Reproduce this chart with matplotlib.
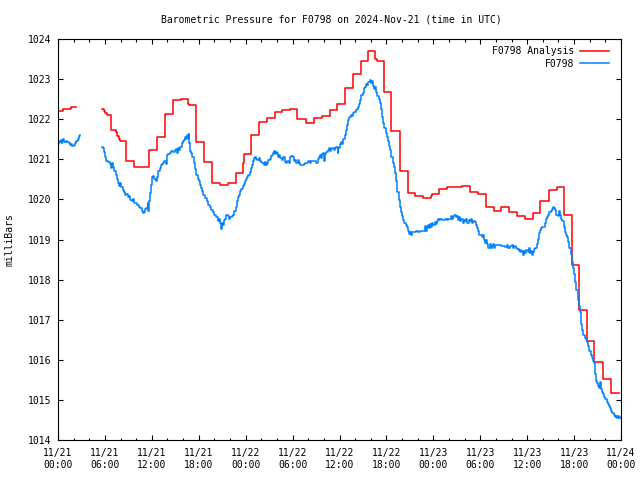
import numpy as np
import matplotlib
matplotlib.use("Agg")
import matplotlib.pyplot as plt
import matplotlib.dates as mdates

# ---------------- data ----------------
START = np.datetime64("2024-11-21T00:00")

# Analysis (step series): hour of step start, value (NaN = gap)
analysis_hours = [0.0, 0.6, 1.7, 2.26, 2.3,
    5.63, 5.85, 6.05, 6.3, 6.8, 7.45, 7.6, 7.75, 7.9, 8.7, 9.7, 11.7, 12.7, 13.7,
    14.7, 15.7, 16.6, 16.8, 17.7, 18.7, 19.7, 20.7, 21.7, 22.7, 23.7, 23.85, 24.7,
    25.7, 26.7, 27.7, 28.7, 29.7, 30.6, 31.7, 32.8, 33.7, 34.8, 35.7, 36.7, 37.7,
    38.7, 39.7, 40.6, 40.8, 41.7, 42.6, 43.7, 44.7, 45.7, 46.7, 47.7, 47.85, 48.7,
    49.7, 51.7, 52.7, 53.7, 54.7, 55.8, 56.7, 57.7, 58.7, 59.7, 60.7, 61.7, 62.8,
    63.8, 64.7, 65.7, 66.6, 67.7, 68.6, 69.7, 70.7, 71.7]
analysis_vals = [1022.20, 1022.25, 1022.30, 1022.30, np.nan,
    1022.25, 1022.20, 1022.15, 1022.10, 1021.73, 1021.68, 1021.58, 1021.50, 1021.46,
    1020.96, 1020.81, 1021.23, 1021.56, 1022.13, 1022.48, 1022.50, 1022.38, 1022.35,
    1021.43, 1020.93, 1020.41, 1020.36, 1020.41, 1020.66, 1020.90, 1021.13, 1021.61,
    1021.93, 1022.03, 1022.18, 1022.23, 1022.25, 1022.00, 1021.91, 1022.03, 1022.08,
    1022.23, 1022.38, 1022.78, 1023.13, 1023.45, 1023.70, 1023.50, 1023.45, 1022.68,
    1021.71, 1020.71, 1020.16, 1020.08, 1020.03, 1020.08, 1020.13, 1020.26, 1020.31,
    1020.33, 1020.18, 1020.13, 1019.81, 1019.71, 1019.81, 1019.69, 1019.59, 1019.51,
    1019.66, 1019.96, 1020.23, 1020.31, 1019.61, 1018.36, 1017.24, 1016.47, 1015.95,
    1015.52, 1015.17, 1015.17]

# Observations: hour, value (NaN = gap)
obs_hours = [0.0, 0.08, 0.2, 0.35, 0.45, 0.55, 0.7, 0.8, 1.0, 1.2, 1.4, 1.5, 1.65, 1.8,
    2.0, 2.15, 2.3, 2.5, 2.65, 2.8, 2.85,
    5.63, 5.75, 5.9, 6.05, 6.2, 6.45, 6.65, 6.75, 6.85, 7.05, 7.2, 7.4, 7.55, 7.7, 7.85,
    7.95, 8.05, 8.25, 8.45, 8.6, 8.75, 8.9, 9.1, 9.25, 9.4, 9.55, 9.7, 9.9, 10.1, 10.3,
    10.5, 10.7, 10.85, 10.95, 11.1, 11.3, 11.45, 11.55, 11.65, 11.75, 11.85, 12.0,
    12.15, 12.3, 12.5, 12.65, 12.8, 13.0, 13.15, 13.3, 13.45, 13.6, 13.75, 13.9, 14.1,
    14.3, 14.5, 14.7, 14.9, 15.1, 15.2, 15.3, 15.5, 15.65, 15.8, 15.95, 16.1, 16.25,
    16.35, 16.45, 16.6, 16.7, 16.8, 16.9, 17.05, 17.2, 17.35, 17.5, 17.7, 17.85, 18.0,
    18.15, 18.3, 18.45, 18.6, 18.8, 19.0, 19.2, 19.4, 19.6, 19.8, 20.0, 20.2, 20.4,
    20.55, 20.7, 20.85, 20.95, 21.1, 21.25, 21.4, 21.5, 21.7, 21.85, 22.0, 22.2, 22.4,
    22.55, 22.7, 22.85, 23.0, 23.15, 23.3, 23.45, 23.6, 23.75, 23.9, 24.05, 24.2,
    24.35, 24.5, 24.65, 24.8, 24.95, 25.1, 25.25, 25.35, 25.5, 25.65, 25.8, 26.0,
    26.15, 26.3, 26.45, 26.6, 26.75, 26.9, 27.05, 27.2, 27.35, 27.5, 27.65, 27.75,
    27.85, 28.0, 28.15, 28.3, 28.45, 28.6, 28.8, 29.0, 29.15, 29.3, 29.5, 29.65, 29.8,
    30.0, 30.15, 30.3, 30.5, 30.65, 30.8, 30.95, 31.15, 31.4, 31.6, 31.8, 32.0, 32.2,
    32.4, 32.6, 32.8, 33.0, 33.2, 33.35, 33.5, 33.65, 33.75, 33.9, 34.0, 34.1, 34.3,
    34.5, 34.65, 34.8, 34.95, 35.1, 35.3, 35.45, 35.6, 35.75, 35.85, 36.05, 36.2,
    36.35, 36.5, 36.65, 36.8, 36.95, 37.1, 37.25, 37.45, 37.6, 37.75, 37.9, 38.05,
    38.2, 38.35, 38.5, 38.65, 38.8, 38.95, 39.1, 39.25, 39.4, 39.55, 39.7, 39.85, 40.0,
    40.15, 40.3, 40.45, 40.6, 40.7, 40.85, 41.0, 41.15, 41.3, 41.45, 41.6, 41.75, 41.9,
    42.05, 42.2, 42.35, 42.5, 42.65, 42.8, 42.95, 43.1, 43.25, 43.4, 43.55, 43.7,
    43.85, 44.0, 44.15, 44.3, 44.45, 44.6, 44.75, 44.9, 45.05, 45.15, 45.3, 45.5, 45.8,
    46.0, 46.3, 46.6, 46.85, 46.95, 47.05, 47.2, 47.35, 47.45, 47.55, 47.7, 47.85,
    48.0, 48.15, 48.3, 48.45, 48.6, 48.75, 48.9, 49.1, 49.3, 49.5, 49.7, 49.9, 50.05,
    50.2, 50.35, 50.5, 50.7, 50.85, 51.0, 51.15, 51.3, 51.45, 51.6, 51.75, 51.9, 52.05,
    52.2, 52.35, 52.5, 52.65, 52.8, 52.95, 53.1, 53.3, 53.45, 53.6, 53.75, 53.9, 54.05,
    54.2, 54.3, 54.45, 54.6, 54.75, 54.9, 55.05, 55.2, 55.35, 55.5, 55.65, 55.8, 55.95,
    56.2, 56.45, 56.7, 56.95, 57.2, 57.45, 57.6, 57.8, 58.0, 58.2, 58.35, 58.55, 58.75,
    58.9, 59.05, 59.2, 59.35, 59.5, 59.6, 59.75, 59.9, 60.05, 60.2, 60.3, 60.45, 60.6,
    60.75, 60.9, 61.05, 61.2, 61.35, 61.5, 61.65, 61.8, 61.95, 62.1, 62.25, 62.4,
    62.55, 62.7, 62.85, 63.0, 63.15, 63.3, 63.45, 63.6, 63.75, 63.9, 64.05, 64.2,
    64.35, 64.5, 64.65, 64.8, 64.95, 65.1, 65.25, 65.4, 65.55, 65.7, 65.85, 66.0,
    66.15, 66.3, 66.45, 66.6, 66.75, 66.9, 67.05, 67.2, 67.35, 67.5, 67.65, 67.8,
    67.95, 68.1, 68.25, 68.4, 68.55, 68.65, 68.75, 68.9, 69.05, 69.2, 69.3, 69.4,
    69.55, 69.7, 69.85, 70.0, 70.15, 70.3, 70.45, 70.6, 70.75, 70.9, 71.05, 71.2,
    71.35, 71.5, 71.65, 71.8, 72.0]
obs_vals = [1021.38, 1021.45, 1021.42, 1021.48, 1021.40, 1021.46, 1021.50, 1021.43,
    1021.45, 1021.42, 1021.40, 1021.35, 1021.38, 1021.32, 1021.35, 1021.40, 1021.45,
    1021.50, 1021.58, 1021.60, np.nan,
    1021.30, 1021.27, 1021.18, 1021.05, 1020.95, 1020.93, 1020.88, 1020.78, 1020.90,
    1020.82, 1020.72, 1020.60, 1020.52, 1020.40, 1020.33, 1020.40, 1020.30, 1020.24,
    1020.18, 1020.10, 1020.13, 1020.05, 1020.08, 1019.98, 1019.95, 1020.00, 1019.92,
    1019.90, 1019.85, 1019.82, 1019.78, 1019.72, 1019.65, 1019.68, 1019.75, 1019.78,
    1019.90, 1019.72, 1019.95, 1020.15, 1020.35, 1020.55, 1020.58, 1020.50, 1020.47,
    1020.55, 1020.70, 1020.78, 1020.85, 1020.88, 1020.92, 1020.95, 1020.88, 1021.10,
    1021.12, 1021.15, 1021.20, 1021.18, 1021.22, 1021.25, 1021.15, 1021.28, 1021.22,
    1021.30, 1021.40, 1021.45, 1021.48, 1021.55, 1021.50, 1021.60, 1021.52, 1021.62,
    1021.40, 1021.20, 1021.15, 1021.05, 1020.92, 1020.75, 1020.62, 1020.52, 1020.45,
    1020.36, 1020.28, 1020.20, 1020.12, 1020.03, 1019.95, 1019.87, 1019.80, 1019.74,
    1019.68, 1019.60, 1019.55, 1019.46, 1019.52, 1019.40, 1019.25, 1019.40, 1019.35,
    1019.48, 1019.50, 1019.62, 1019.58, 1019.52, 1019.55, 1019.58, 1019.62, 1019.72,
    1019.82, 1019.95, 1020.05, 1020.10, 1020.20, 1020.25, 1020.33, 1020.38, 1020.45,
    1020.50, 1020.55, 1020.62, 1020.68, 1020.78, 1020.85, 1020.95, 1021.02, 1021.05,
    1021.00, 1020.98, 1021.03, 1020.96, 1020.94, 1020.90, 1020.86, 1020.93, 1020.85,
    1020.92, 1020.98, 1021.00, 1021.07, 1021.10, 1021.15, 1021.20, 1021.12, 1021.18,
    1021.15, 1021.05, 1021.10, 1021.02, 1020.98, 1021.05, 1020.94, 1020.90, 1020.95,
    1020.92, 1021.05, 1021.08, 1021.05, 1020.95, 1020.98, 1020.92, 1020.98, 1020.90,
    1020.86, 1020.86, 1020.88, 1020.92, 1020.92, 1020.95, 1020.90, 1020.97, 1020.95,
    1020.97, 1020.92, 1021.00, 1021.05, 1021.10, 1021.03, 1021.12, 1021.15, 1020.95,
    1021.12, 1021.18, 1021.22, 1021.28, 1021.20, 1021.26, 1021.28, 1021.22, 1021.28,
    1021.30, 1021.15, 1021.28, 1021.38, 1021.42, 1021.38, 1021.50, 1021.60, 1021.72,
    1021.85, 1021.98, 1022.05, 1022.10, 1022.08, 1022.15, 1022.18, 1022.22, 1022.25,
    1022.30, 1022.38, 1022.48, 1022.60, 1022.65, 1022.78, 1022.80, 1022.88, 1022.85,
    1022.92, 1022.98, 1022.90, 1022.95, 1022.82, 1022.75, 1022.80, 1022.68, 1022.58,
    1022.50, 1022.40, 1022.25, 1022.05, 1021.90, 1021.78, 1021.65, 1021.55, 1021.45,
    1021.32, 1021.22, 1021.05, 1020.92, 1020.80, 1020.65, 1020.45, 1020.18, 1019.98,
    1019.82, 1019.68, 1019.58, 1019.48, 1019.40, 1019.35, 1019.30, 1019.20, 1019.14,
    1019.19, 1019.12, 1019.19, 1019.19, 1019.20, 1019.19, 1019.20, 1019.20, 1019.22,
    1019.33, 1019.22, 1019.30, 1019.36, 1019.28, 1019.38, 1019.30, 1019.40, 1019.36,
    1019.43, 1019.38, 1019.45, 1019.50, 1019.48, 1019.50, 1019.48, 1019.48, 1019.50,
    1019.48, 1019.52, 1019.50, 1019.58, 1019.52, 1019.55, 1019.62, 1019.55, 1019.58,
    1019.48, 1019.55, 1019.45, 1019.50, 1019.42, 1019.48, 1019.45, 1019.50, 1019.42,
    1019.48, 1019.45, 1019.50, 1019.40, 1019.45, 1019.44, 1019.35, 1019.28, 1019.20,
    1019.12, 1019.10, 1019.05, 1019.12, 1018.98, 1018.92, 1019.00, 1018.88, 1018.80,
    1018.90, 1018.78, 1018.85, 1018.88, 1018.80, 1018.86, 1018.86, 1018.86, 1018.84,
    1018.84, 1018.82, 1018.86, 1018.80, 1018.84, 1018.86, 1018.80, 1018.84, 1018.80,
    1018.76, 1018.72, 1018.75, 1018.68, 1018.72, 1018.62, 1018.72, 1018.66, 1018.75,
    1018.68, 1018.78, 1018.66, 1018.72, 1018.62, 1018.70, 1018.76, 1018.80, 1018.90,
    1019.02, 1019.15, 1019.24, 1019.28, 1019.32, 1019.30, 1019.42, 1019.50, 1019.55,
    1019.62, 1019.68, 1019.72, 1019.76, 1019.80, 1019.78, 1019.74, 1019.62, 1019.58,
    1019.72, 1019.62, 1019.50, 1019.45, 1019.32, 1019.18, 1019.10, 1019.05, 1018.95,
    1018.80, 1018.65, 1018.45, 1018.28, 1018.15, 1017.95, 1017.75, 1017.50, 1017.35,
    1017.20, 1016.90, 1016.75, 1016.62, 1016.55, 1016.52, 1016.45, 1016.35, 1016.22,
    1016.12, 1016.05, 1015.98, 1015.92, 1015.65, 1015.48, 1015.42, 1015.35, 1015.30,
    1015.45, 1015.28, 1015.20, 1015.15, 1015.08, 1015.02, 1014.95, 1014.90, 1014.85,
    1014.80, 1014.72, 1014.68, 1014.62, 1014.58, 1014.60, 1014.55, 1014.60, 1014.56,
    1014.58]

analysis_label = "F0798 Analysis"
obs_label = "F0798"
title = "Barometric Pressure for F0798 on 2024-Nov-21 (time in UTC)"
ylabel = "milliBars"
y_ticks = [1014, 1015, 1016, 1017, 1018, 1019, 1020, 1021, 1022, 1023, 1024]

# ---------------- plot ----------------
def to_time(hours):
    return START + (np.array(hours) * 60).round().astype("timedelta64[m]")

plt.rcParams["font.family"] = ["DejaVu Sans Mono"]
fig = plt.figure(figsize=(6.4, 4.8), dpi=100)
ax = fig.add_axes([58 / 640, 40 / 480, 563 / 640, 401 / 480])

ax.plot(to_time(analysis_hours), analysis_vals, drawstyle="steps-post",
        color="#ff0000", lw=1.1, label=analysis_label)
ax.plot(to_time(obs_hours), obs_vals, drawstyle="steps-post",
        color="#0080ff", lw=1.1, label=obs_label)

ax.set_xlim(START, START + np.timedelta64(72, "h"))
ax.set_ylim(1014, 1024)
ax.set_yticks(y_ticks)
ax.xaxis.set_major_locator(mdates.HourLocator(byhour=[0, 6, 12, 18]))
ax.xaxis.set_minor_locator(mdates.HourLocator(interval=2))
ax.xaxis.set_major_formatter(mdates.DateFormatter("%m/%d\n%H:%M"))

ax.tick_params(which="both", direction="in", top=True, right=True,
               width=0.8, labelsize=7, colors="black")
ax.tick_params(which="major", length=3.4, pad=5)
ax.tick_params(which="minor", length=1.8)
ax.tick_params(axis="x", which="major", pad=6)
for s in ax.spines.values():
    s.set_linewidth(0.8)

fig.text(331 / 640, 1 - 19 / 480, title, ha="center", va="center", fontsize=7)
fig.text(10 / 640, 0.5, ylabel, rotation=90, ha="center", va="center", fontsize=7)

leg = ax.legend(loc="upper right", bbox_to_anchor=(0.9867, 0.9943),
                frameon=False, markerfirst=False, fontsize=7,
                handlelength=2.9, handletextpad=0.6, labelspacing=0.25,
                borderaxespad=0.3, borderpad=0.2)

fig.savefig("out.png", dpi=100)
